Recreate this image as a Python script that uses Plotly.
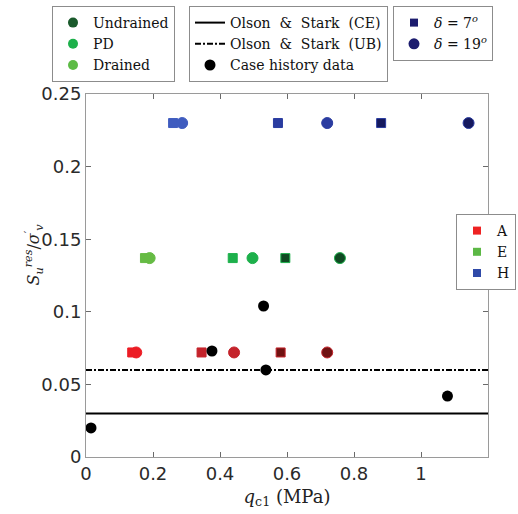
import plotly.graph_objects as go

# ---------------- data ----------------
x_range = [0, 1.2]
y_range = [0, 0.25]

# Soil H (blue), E (green), A (red); order: Drained, PD, Undrained
h_y = 0.23
h_x_sq = [0.26, 0.573, 0.881]    # delta = 7 deg
h_x_ci = [0.287, 0.72, 1.142]    # delta = 19 deg
e_y = 0.137
e_x_sq = [0.176, 0.438, 0.595]
e_x_ci = [0.19, 0.497, 0.758]
a_y = 0.072
a_x_sq = [0.138, 0.345, 0.581]
a_x_ci = [0.15, 0.442, 0.72]

case_x = [0.015, 0.376, 0.53, 0.537, 1.079]
case_y = [0.020, 0.073, 0.104, 0.060, 0.042]

ce_y = 0.03   # Olson & Stark (CE)
ub_y = 0.06   # Olson & Stark (UB)

red = ["#ec1c24", "#c4232b", "#701212"]
green = ["#66bb44", "#1db04b", "#0f4a22"]
blue = ["#3f5cbf", "#2a3ca0", "#15195e"]
edge_red = ["#ec1c24", "#c4232b", "#c4232b"]
edge_green = ["#66bb44", "#1db04b", "#1db04b"]
edge_blue = ["#3f5cbf", "#2a3ca0", "#2a3ca0"]

SERIF = "DejaVu Serif"
NB = "&nbsp;"
fig = go.Figure()

# reference lines
fig.add_trace(go.Scatter(x=x_range, y=[ce_y, ce_y], mode="lines",
                         line=dict(color="black", width=2),
                         name=f"Olson {NB}&amp;{NB} Stark {NB}(CE)", legend="legend2"))
fig.add_trace(go.Scatter(x=x_range, y=[ub_y, ub_y], mode="lines",
                         line=dict(color="black", width=2, dash="6px,2px,2px,2px"),
                         name=f"Olson {NB}&amp;{NB} Stark {NB}(UB)", legend="legend2"))

# simulation points
for ys, xs_sq, xs_ci, cols, edges in [
    (a_y, a_x_sq, a_x_ci, red, edge_red),
    (e_y, e_x_sq, e_x_ci, green, edge_green),
    (h_y, h_x_sq, h_x_ci, blue, edge_blue),
]:
    for i in range(3):
        fig.add_trace(go.Scatter(x=[xs_sq[i]], y=[ys], mode="markers", showlegend=False,
                                 marker=dict(symbol="square", size=9, color=cols[i],
                                             line=dict(color=edges[i], width=1))))
        fig.add_trace(go.Scatter(x=[xs_ci[i]], y=[ys], mode="markers", showlegend=False,
                                 marker=dict(symbol="circle", size=11, color=cols[i],
                                             line=dict(color=edges[i], width=1))))

# case history
fig.add_trace(go.Scatter(x=case_x, y=case_y, mode="markers",
                         marker=dict(symbol="circle", size=11, color="black"),
                         name="Case history data", legend="legend2"))

# legend 1: drainage
for lab, col in zip(["Undrained", "PD", "Drained"], ["#1a5a2c", "#1db04b", "#5dbb46"]):
    fig.add_trace(go.Scatter(x=[None], y=[None], mode="markers", name=lab, legend="legend",
                             marker=dict(symbol="circle", size=10, color=col)))
# legend 3: interface angle
fig.add_trace(go.Scatter(x=[None], y=[None], mode="markers", legend="legend3",
                         name="<i>δ</i> = 7<sup><i>o</i></sup>",
                         marker=dict(symbol="square", size=8, color="#1c1c6e")))
fig.add_trace(go.Scatter(x=[None], y=[None], mode="markers", legend="legend3",
                         name="<i>δ</i> = 19<sup><i>o</i></sup>",
                         marker=dict(symbol="circle", size=11, color="#1c1c6e")))
# legend 4: soils
for lab, col in zip(["A", "E", "H"], ["#ee2222", "#5cb845", "#2f4aa8"]):
    fig.add_trace(go.Scatter(x=[None], y=[None], mode="markers", name=lab, legend="legend4",
                             marker=dict(symbol="square", size=8, color=col)))

W, H = 518, 514
L, R, T, B = 86, 30, 94, 57
pw, ph = W - L - R, H - T - B

def px_x(p):
    return (p - L) / pw

def px_y(p):
    return (H - B - p) / ph

leg_common = dict(bgcolor="white", bordercolor="#8c8c8c", borderwidth=1,
                  font=dict(family=SERIF, size=14, color="#111"),
                  xanchor="left", yanchor="top", tracegroupgap=0)

axis_common = dict(showgrid=False, zeroline=False, showline=True, linecolor="#9a9a9a",
                   linewidth=1, mirror="ticks", ticks="inside", ticklen=5,
                   tickcolor="#6a6a6a",
                   tickfont=dict(family="DejaVu Sans", size=18, color="#2a2a2a"))

fig.update_layout(
    width=W, height=H,
    margin=dict(l=L, r=R, t=T, b=B, autoexpand=False),
    paper_bgcolor="white", plot_bgcolor="white",
    xaxis=dict(range=x_range, tickvals=[0, 0.2, 0.4, 0.6, 0.8, 1],
               ticktext=["0", "0.2", "0.4", "0.6", "0.8", "1"],
               title=dict(text="<i>q</i><sub>c1</sub> (MPa)",
                          font=dict(family=SERIF, size=18, color="#222"), standoff=7),
               **axis_common),
    yaxis=dict(range=y_range, tickvals=[0, 0.05, 0.1, 0.15, 0.2, 0.25],
               ticktext=["0", "0.05", "0.1", "0.15", "0.2", "0.25"],
               **axis_common),
    legend=dict(x=px_x(52), y=px_y(6), **leg_common),
    legend2=dict(x=px_x(189), y=px_y(6), **leg_common),
    legend3=dict(x=px_x(393), y=px_y(6), **leg_common),
    legend4=dict(x=px_x(456), y=px_y(214), **leg_common),
    annotations=[dict(text="<i>S</i><sub><i>u</i></sub><sup><i>res</i></sup>/<i>σ</i><sup>′</sup><sub><i>v</i></sub>",
                      textangle=-90, xref="paper", yref="paper",
                      x=px_x(20), y=px_y(255), showarrow=False,
                      font=dict(family=SERIF, size=16, color="#222"))],
)

fig.write_html("out.html")
